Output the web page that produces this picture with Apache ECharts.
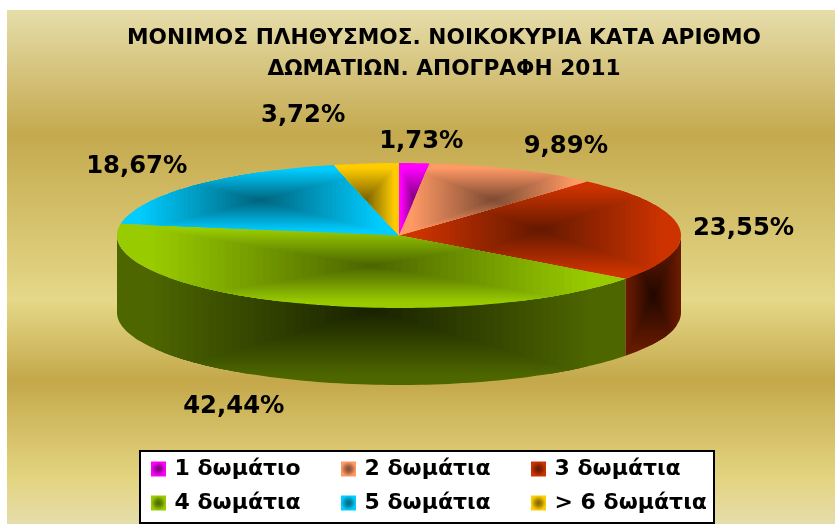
<!DOCTYPE html>
<html>
<head>
<meta charset="utf-8">
<style>html,body{margin:0;padding:0;background:#fff}#c{width:835px;height:524px}</style>
<script src="https://cdn.jsdelivr.net/npm/echarts@6/dist/echarts.min.js"></script>
</head>
<body>
<div id="c"></div>
<script>
const titleText = 'ΜΟΝΙΜΟΣ ΠΛΗΘΥΣΜΟΣ. ΝΟΙΚΟΚΥΡΙΑ ΚΑΤΑ ΑΡΙΘΜΟ\nΔΩΜΑΤΙΩΝ. ΑΠΟΓΡΑΦΗ 2011';
const categories = ['1 δωμάτιο', '2 δωμάτια', '3 δωμάτια', '4 δωμάτια', '5 δωμάτια', '> 6 δωμάτια'];
const shares = [1.73, 9.89, 23.55, 42.44, 18.67, 3.72];
const colors = ['#FF00FF', '#FF9966', '#CC3300', '#99CC00', '#00CCFF', '#FFCC00'];

// Layout of the drawn pie and its outside labels
const PIE = { cx: 399, cy: 235.5, rx: 282, ry: 72.5, depth: 77 };
const labelOffsets = [[7, -21], [52, -23], [64, 0], [-55, 104], [-56, -19], [-63, -48]];
const LAYERS = 28, REACH = 0.85;

const rgb = h => [1, 3, 5].map(i => parseInt(h.substr(i, 2), 16));
const mix = (a, b, t) => 'rgb(' + a.map((v, i) => Math.round(v + (b[i] - v) * t)).join(',') + ')';
const times = (c, k) => c.map(v => v * k);
const onEllipse = (deg, dy) => {
  const r = deg * Math.PI / 180;
  return [PIE.cx + PIE.rx * Math.sin(r), PIE.cy - PIE.ry * Math.cos(r) + (dy || 0)];
};
const arc = (a, b, dy) => {
  const n = Math.max(2, Math.ceil((b - a) / 1.5)), pts = [];
  for (let i = 0; i <= n; i++) pts.push(onEllipse(a + (b - a) * i / n, dy));
  return pts;
};
function clipToRect(poly, x0, y0, x1, y1) {
  const edges = [
    [p => p[0] >= x0, (p, q) => { const t = (x0 - p[0]) / (q[0] - p[0]); return [x0, p[1] + t * (q[1] - p[1])]; }],
    [p => p[0] <= x1, (p, q) => { const t = (x1 - p[0]) / (q[0] - p[0]); return [x1, p[1] + t * (q[1] - p[1])]; }],
    [p => p[1] >= y0, (p, q) => { const t = (y0 - p[1]) / (q[1] - p[1]); return [p[0] + t * (q[0] - p[0]), y0]; }],
    [p => p[1] <= y1, (p, q) => { const t = (y1 - p[1]) / (q[1] - p[1]); return [p[0] + t * (q[0] - p[0]), y1]; }]
  ];
  let out = poly;
  for (const [inside, cut] of edges) {
    const src = out; out = [];
    for (let i = 0; i < src.length; i++) {
      const p = src[i], q = src[(i + 1) % src.length];
      if (inside(p)) { out.push(p); if (!inside(q)) out.push(cut(p, q)); }
      else if (inside(q)) out.push(cut(p, q));
    }
    if (!out.length) break;
  }
  return out;
}
// Rectangular "from centre" gradient, clipped to a shape: nested rectangles
function shaded(poly, bright, dark) {
  const xs = poly.map(p => p[0]), ys = poly.map(p => p[1]);
  const x0 = Math.min(...xs), x1 = Math.max(...xs), y0 = Math.min(...ys), y1 = Math.max(...ys);
  const mx = (x0 + x1) / 2, my = (y0 + y1) / 2, hw = (x1 - x0) / 2 * REACH, hh = (y1 - y0) / 2 * REACH;
  const out = [{ type: 'polygon', shape: { points: poly }, style: { fill: mix(bright, bright, 0) }, silent: true }];
  for (let i = LAYERS; i >= 1; i--) {
    const t = i / LAYERS;
    const part = clipToRect(poly, mx - hw * t, my - hh * t, mx + hw * t, my + hh * t);
    if (part.length > 2) out.push({ type: 'polygon', shape: { points: part }, style: { fill: mix(dark, bright, t - 1 / LAYERS) }, silent: true });
  }
  return out;
}
const total = shares.reduce((a, b) => a + b, 0);
const startDeg = shares.map((_, i) => shares.slice(0, i).reduce((a, b) => a + b, 0) / total * 360);

function sliceRenderer(idx) {
  return function (params, api) {
    const a = startDeg[idx], b = a + api.value(0) / total * 360;
    const base = rgb(colors[idx]);
    const children = [];
    const wa = Math.max(a, 90), wb = Math.min(b, 270);
    if (wb > wa) {
      const wall = arc(wa, wb, 0).concat(arc(wa, wb, PIE.depth).reverse());
      children.push(...shaded(wall, times(base, 0.5), times(base, 1 / 6)));
    }
    const top = [[PIE.cx, PIE.cy]].concat(arc(a, b, 0));
    children.push(...shaded(top, base, times(base, 0.5)));
    const anchor = onEllipse((a + b) / 2, 0);
    children.push({
      type: 'text', silent: true, z2: 100,
      style: {
        x: anchor[0] + labelOffsets[idx][0], y: anchor[1] + labelOffsets[idx][1],
        text: api.value(0).toFixed(2).replace('.', ',') + '%',
        fill: '#000', font: 'bold 24.3px "DejaVu Sans"', align: 'center', verticalAlign: 'middle'
      }
    });
    return { type: 'group', children };
  };
}

const legendText = (w) => ({ fontFamily: 'DejaVu Sans', fontWeight: 'bold', fontSize: 22, color: '#000', width: w, lineHeight: 24, padding: [10, 0, 0, 3.5] });
const chart = echarts.init(document.getElementById('c'), null, { renderer: 'canvas' });
chart.setOption({
  animation: false,
  backgroundColor: '#fff',
  graphic: [{
    type: 'rect', z: -10, silent: true,
    shape: { x: 7, y: 10, width: 828, height: 514 },
    style: {
      fill: new echarts.graphic.LinearGradient(0, 0, 0, 1, [
        { offset: 0, color: '#E6DDAA' },
        { offset: 0.243, color: '#C4A94E' },
        { offset: 0.564, color: '#E5D888' },
        { offset: 0.72, color: '#C4A84A' },
        { offset: 0.91, color: '#E3D480' },
        { offset: 1, color: '#E5DDAB' }
      ])
    }
  }],
  title: {
    text: titleText, left: 444, top: 23, textAlign: 'center', padding: 0,
    textStyle: { fontFamily: 'DejaVu Sans', fontWeight: 'bold', fontSize: 21.7, lineHeight: 31, color: '#000' }
  },
  legend: {
    left: 140, top: 451, width: 570, padding: [1, 0, 3, 11], itemGap: 0, itemWidth: 15, itemHeight: 15,
    backgroundColor: '#fff', borderColor: '#000', borderWidth: 2, selectedMode: false,
    icon: 'rect',
    textStyle: legendText(166.5),
    data: categories.map((name, i) => ({
      name,
      textStyle: legendText(i % 3 === 2 ? 159.5 : 166.5),
      itemStyle: {
        color: new echarts.graphic.RadialGradient(0.5, 0.5, 0.6, [
          { offset: 0, color: mix(times(rgb(colors[i]), 0.5), rgb(colors[i]), 0) },
          { offset: 0.35, color: mix(times(rgb(colors[i]), 0.5), rgb(colors[i]), 0.3) },
          { offset: 0.8, color: colors[i] },
          { offset: 1, color: colors[i] }
        ])
      }
    }))
  },
  series: categories.map((name, i) => ({
    type: 'custom', name, coordinateSystem: 'none', z: 2 + (i === 2 || i === 3 ? 0 : 1),
    data: [[shares[i]]],
    renderItem: sliceRenderer(i),
    itemStyle: { color: colors[i] }
  }))
});
</script>
</body>
</html>
